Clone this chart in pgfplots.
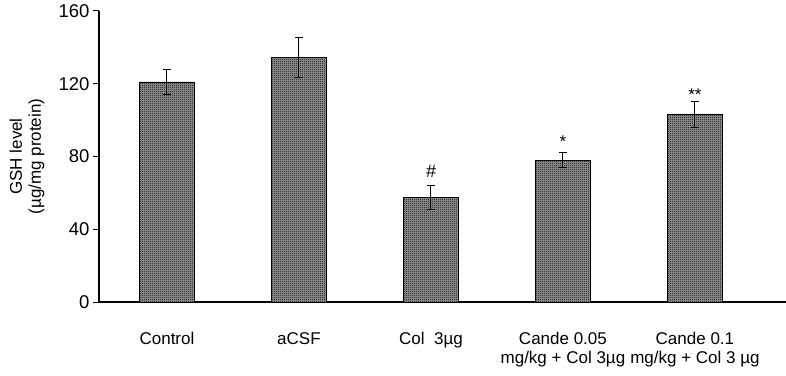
\documentclass[border=0pt]{standalone}
\usepackage{fontspec}
\setmainfont{Liberation Sans}
\usepackage{pgfplots}
\pgfplotsset{compat=1.18}
\usetikzlibrary{patterns}
\pgfdeclarepatternformonly{checker}{\pgfqpoint{0pt}{0pt}}{\pgfqpoint{2pt}{2pt}}{\pgfqpoint{2pt}{2pt}}{%
  \pgfpathrectangle{\pgfqpoint{0pt}{0pt}}{\pgfqpoint{1pt}{1pt}}%
  \pgfpathrectangle{\pgfqpoint{1pt}{1pt}}{\pgfqpoint{1pt}{1pt}}%
  \pgfusepath{fill}}
\begin{document}
\begin{tikzpicture}
\begin{axis}[
  at={(0,0)}, anchor=south west,
  scale only axis,
  width=687pt, height=291pt,
  xmin=-0.515, xmax=4.69,
  ymin=0, ymax=160,
  ytick={0,40,80,120,160},
  axis x line*=bottom, axis y line*=left,
  axis line style={line width=1.2pt, -},
  xtick={0,1,2,3,4},
  xticklabels={Control, aCSF, Col\ \ 3µg, {Cande 0.05\\mg/kg + Col 3µg}, {Cande 0.1\\mg/kg + Col 3 µg}},
  major x tick style={draw=none},
  extra x ticks={0.5,1.5,2.5,3.5,4.5},
  extra x tick labels={},
  extra x tick style={tick style={black, line width=1pt}, major tick length=7pt},
  tick align=outside,
  major tick length=6pt,
  ytick style={black, line width=1pt},
  xticklabel style={font=\fontsize{17}{19}\selectfont, align=center, yshift=-21pt},
  yticklabel style={font=\fontsize{18.5}{20}\selectfont},
  /pgf/number format/assume math mode=true,
  ylabel={GSH level\\(µg/mg protein)},
  ylabel style={align=center, font=\fontsize{17}{19}\selectfont, at={(axis description cs:-0.105,0.5)}, rotate=0, anchor=center},
  clip=false,
]
\addplot[ybar, bar width=55pt, draw=black, line width=0.8pt, fill=black!40, postaction={pattern=checker, pattern color=black},
  error bars/.cd, y dir=both, y explicit,
  error bar style={black, line width=1pt},
  error mark options={black, line width=1pt, rotate=90, mark size=3.8pt}]
  coordinates {
  (0,121) +- (0,7)
  (1,134.5) +- (0,11)
  (2,57.5) +- (0,6.5)
  (3,78) +- (0,4)
  (4,103) +- (0,7.2)
  };
\node[font=\fontsize{18}{20}\selectfont\itshape] at (axis cs:2,72) {\#};
\node[font=\fontsize{17}{18}\selectfont] at (axis cs:3,88) {*};
\node[font=\fontsize{17}{18}\selectfont] at (axis cs:4,114) {**};
\end{axis}
\pgfresetboundingbox
\useasboundingbox (-99pt,-73pt) rectangle (687pt,302pt);
\end{tikzpicture}
\end{document}
